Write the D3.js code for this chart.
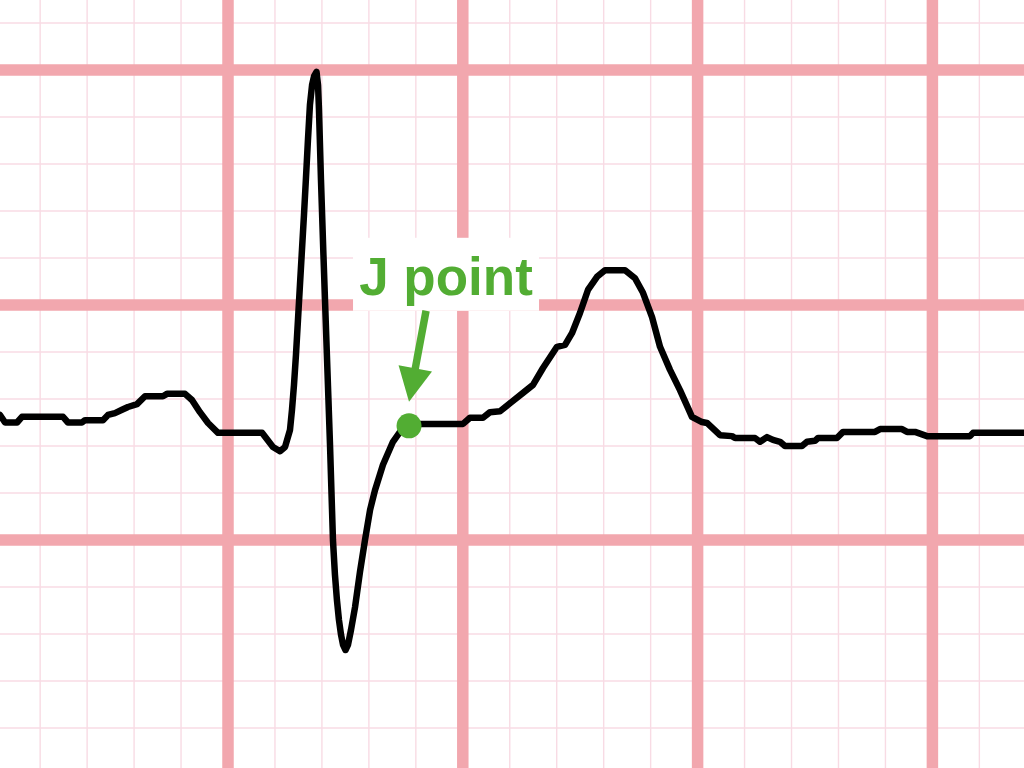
<!DOCTYPE html>
<html>
<head>
<meta charset="utf-8">
<script src="https://cdn.jsdelivr.net/npm/d3@7"></script>
<style>
  html, body { margin: 0; padding: 0; background: #ffffff; overflow: hidden; }
  svg { display: block; }
</style>
</head>
<body>
<svg id="chart" width="1024" height="768"></svg>
<script>
// ---- Data: ECG trace (time in ms, amplitude in mV) ----
const timeMs = [
  -194.2, -189.9, -179.7, -175.5, -140.5, -136.3, -124.4, -121.8, -106.5, -102.2,
  -96.3, -90.3, -85.2, -77.5, -70.7, -55.4, -52.0, -36.6, -30.7, -23.9,
  -17.0, -8.5, 29.0, 38.3, 44.3, 48.6,
  52.8, 54.5, 56.2, 57.9, 59.6, 61.3, 63.0, 64.7, 66.4, 68.1, 69.8, 71.6, 73.3, 75.4,
  76.7, 77.5, 79.2, 81.3, 84.1, 86.9, 89.4,
  91.1, 92.8, 94.5, 96.3, 98.0, 100.1, 102.2, 104.8, 108.2,
  112.4, 116.7, 121.0, 125.2, 132.0, 140.5, 146.5, 154.2, 200.2, 206.1,
  217.2, 223.2, 231.7, 240.2, 251.3, 259.8, 268.3, 280.2, 287.1, 293.0,
  299.8, 306.6, 314.3, 321.1, 338.2, 346.7, 353.5, 361.2, 368.0, 376.5,
  385.0, 391.8, 395.2, 403.7, 408.0, 419.1, 429.3, 431.9, 448.9, 453.2,
  459.1, 464.2, 470.2, 474.4, 488.9, 493.2, 500.0, 502.6, 518.7, 523.9,
  551.1, 555.4, 574.1, 578.4, 585.2, 595.4, 632.0, 634.6, 678.0
];
const voltMv = [
  0.266, 0.250, 0.250, 0.262, 0.262, 0.250, 0.250, 0.255, 0.255, 0.266,
  0.270, 0.277, 0.283, 0.289, 0.306, 0.306, 0.311, 0.311, 0.298, 0.272,
  0.249, 0.228, 0.228, 0.198, 0.189, 0.198,
  0.234, 0.277, 0.330, 0.394, 0.468, 0.543, 0.617, 0.691, 0.770, 0.851, 0.926, 0.968, 0.987, 0.996,
  0.968, 0.915, 0.766, 0.606, 0.404, 0.202, 0.000,
  -0.074, -0.128, -0.170, -0.202, -0.223, -0.234, -0.223, -0.191, -0.143,
  -0.068, 0.000, 0.064, 0.106, 0.160, 0.209, 0.230, 0.247, 0.247, 0.260,
  0.260, 0.272, 0.274, 0.291, 0.313, 0.330, 0.366, 0.411, 0.415, 0.440,
  0.483, 0.532, 0.560, 0.574, 0.574, 0.557, 0.526, 0.474, 0.411, 0.362,
  0.319, 0.281, 0.262, 0.251, 0.249, 0.223, 0.221, 0.217, 0.217, 0.209,
  0.219, 0.213, 0.209, 0.200, 0.200, 0.209, 0.211, 0.217, 0.217, 0.230,
  0.230, 0.236, 0.236, 0.230, 0.230, 0.221, 0.221, 0.228, 0.228
];

// Grid definition (ECG paper): small box 40 ms / 0.1 mV, large box 200 ms / 0.5 mV
const minorStepMs = 40;
const majorStepMs = 200;
const minorStepMv = 0.1;
const majorStepMv = 0.5;

// Annotation
const annotationLabel = "J point";
const jPointMs = 154.2;
const jPointMv = 0.243;

// ---- Layout ----
const W = 1024, H = 768;
const pxPerMs = 1.174;
const pxPerMv = 470;
const x0 = 228;   // pixel of t = 0
const y0 = 540;   // pixel of 0 mV

const x = d3.scaleLinear()
  .domain([(0 - x0) / pxPerMs, (W - x0) / pxPerMs])
  .range([0, W]);
const y = d3.scaleLinear()
  .domain([(y0 - H) / pxPerMv, y0 / pxPerMv])
  .range([H, 0]);

const svg = d3.select("#chart");
svg.append("rect").attr("width", W).attr("height", H).attr("fill", "#ffffff");

const eps = 1e-6;
function ticksStep(domain, step) {
  const out = [];
  const start = Math.ceil(domain[0] / step - eps);
  const end = Math.floor(domain[1] / step + eps);
  for (let k = start; k <= end; k++) out.push(+(k * step).toFixed(6));
  return out;
}
const isMajor = (v, step) => Math.abs(v / step - Math.round(v / step)) < 1e-6;

const xMinor = ticksStep(x.domain(), minorStepMs).filter(v => !isMajor(v, majorStepMs));
const yMinor = ticksStep(y.domain(), minorStepMv).filter(v => !isMajor(v, majorStepMv));
const xMajor = ticksStep(x.domain(), majorStepMs);
const yMajor = ticksStep(y.domain(), majorStepMv);

const minorColor = "#f8dbe4";
const majorColor = "#f2a7ae";

const grid = svg.append("g");
grid.selectAll(".vmin").data(xMinor).join("line")
  .attr("x1", d => x(d)).attr("x2", d => x(d)).attr("y1", 0).attr("y2", H)
  .attr("stroke", minorColor).attr("stroke-width", 1.4);
grid.selectAll(".hmin").data(yMinor).join("line")
  .attr("y1", d => y(d)).attr("y2", d => y(d)).attr("x1", 0).attr("x2", W)
  .attr("stroke", minorColor).attr("stroke-width", 1.4);
grid.selectAll(".vmaj").data(xMajor).join("line")
  .attr("x1", d => x(d)).attr("x2", d => x(d)).attr("y1", 0).attr("y2", H)
  .attr("stroke", majorColor).attr("stroke-width", 11.5);
grid.selectAll(".hmaj").data(yMajor).join("line")
  .attr("y1", d => y(d)).attr("y2", d => y(d)).attr("x1", 0).attr("x2", W)
  .attr("stroke", majorColor).attr("stroke-width", 11.5);

// ---- Label background box ----
const jx = x(jPointMs), jy = y(jPointMv);
const green = "#52ad33";
const boxX = jx - 56, boxY = jy - 188, boxW = 186, boxH = 73;
svg.append("rect")
  .attr("x", boxX).attr("y", boxY).attr("width", boxW).attr("height", boxH)
  .attr("fill", "#ffffff");

// ---- ECG trace ----
const pts = timeMs.map((t, i) => [t, voltMv[i]]);
const line = d3.line().x(d => x(d[0])).y(d => y(d[1])).curve(d3.curveLinear);
svg.append("path")
  .attr("d", line(pts))
  .attr("fill", "none")
  .attr("stroke", "#000000")
  .attr("stroke-width", 6.5)
  .attr("stroke-linejoin", "round")
  .attr("stroke-linecap", "round");

// ---- Arrow ----
const tip = [jx, jy - 24];
const tail = [jx + 17, boxY + boxH];
const dx = tip[0] - tail[0], dy = tip[1] - tail[1];
const len = Math.hypot(dx, dy);
const ux = dx / len, uy = dy / len;
const headLen = 34, headHalf = 17;
const base = [tip[0] - ux * headLen, tip[1] - uy * headLen];
svg.append("line")
  .attr("x1", tail[0]).attr("y1", tail[1])
  .attr("x2", base[0] + ux * 2).attr("y2", base[1] + uy * 2)
  .attr("stroke", green).attr("stroke-width", 7.5);
svg.append("path")
  .attr("d", d3.line()([
    tip,
    [base[0] - uy * headHalf, base[1] + ux * headHalf],
    [base[0] + uy * headHalf, base[1] - ux * headHalf]
  ]) + "Z")
  .attr("fill", green);

// ---- J point dot ----
svg.append("circle")
  .attr("cx", jx).attr("cy", jy).attr("r", 12.5)
  .attr("fill", green);

// ---- Label text ----
svg.append("text")
  .attr("x", boxX + boxW / 2)
  .attr("y", boxY + 57)
  .attr("text-anchor", "middle")
  .attr("font-family", "'Liberation Sans', Arial, Helvetica, sans-serif")
  .attr("font-weight", "bold")
  .attr("font-size", 53)
  .attr("fill", green)
  .text(annotationLabel);
</script>
</body>
</html>
